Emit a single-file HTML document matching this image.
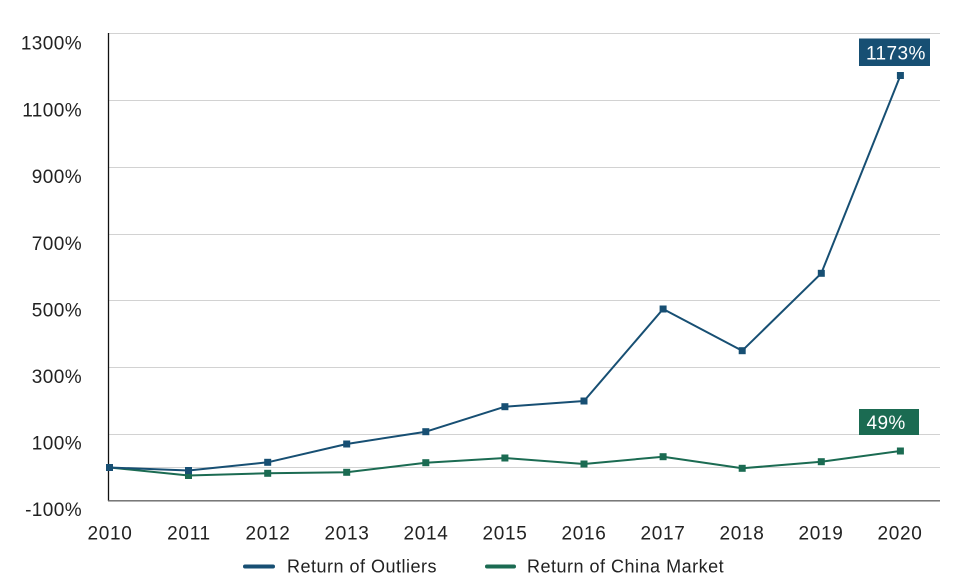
<!DOCTYPE html>
<html><head><meta charset="utf-8">
<style>
html,body{margin:0;padding:0;background:#fff;}
svg{display:block;}
text{font-family:"Liberation Sans",Arial,sans-serif;}
</style></head>
<body>
<svg width="960" height="585" viewBox="0 0 960 585" xmlns="http://www.w3.org/2000/svg">
<rect width="960" height="585" fill="#fff"/>
<g stroke="#d2d2d2" stroke-width="1">
<line x1="109" y1="33.5" x2="940" y2="33.5"/>
<line x1="109" y1="100.5" x2="940" y2="100.5"/>
<line x1="109" y1="167.5" x2="940" y2="167.5"/>
<line x1="109" y1="234.5" x2="940" y2="234.5"/>
<line x1="109" y1="300.5" x2="940" y2="300.5"/>
<line x1="109" y1="367.5" x2="940" y2="367.5"/>
<line x1="109" y1="434.5" x2="940" y2="434.5"/>
<line x1="109" y1="467.5" x2="940" y2="467.5"/>
</g>
<line x1="108.5" y1="33" x2="108.5" y2="501" stroke="#111" stroke-width="1.3"/>
<line x1="108" y1="500.8" x2="940" y2="500.8" stroke="#666" stroke-width="1.3"/>
<g font-size="19" fill="#222" text-anchor="end" letter-spacing="0.4">
<text x="82" y="49.5">1300%</text>
<text x="82" y="116.5">1100%</text>
<text x="82" y="183">900%</text>
<text x="82" y="250">700%</text>
<text x="82" y="316.5">500%</text>
<text x="82" y="383">300%</text>
<text x="82" y="449.5">100%</text>
<text x="82" y="516">-100%</text>
</g>
<g font-size="19" fill="#222" text-anchor="middle" letter-spacing="0.7">
<text x="110" y="539.5">2010</text>
<text x="189" y="539.5">2011</text>
<text x="268" y="539.5">2012</text>
<text x="347" y="539.5">2013</text>
<text x="426" y="539.5">2014</text>
<text x="505" y="539.5">2015</text>
<text x="584" y="539.5">2016</text>
<text x="663" y="539.5">2017</text>
<text x="742" y="539.5">2018</text>
<text x="821" y="539.5">2019</text>
<text x="900" y="539.5">2020</text>
</g>
<!-- China market -->
<polyline fill="none" stroke="#1b6b52" stroke-width="2" stroke-linejoin="round" points="109.5,467.5 188.5,475.5 267.7,473.3 346.7,472.3 425.8,462.7 504.9,458 584,464 663.1,456.7 742.2,468.3 821.3,461.7 900.4,451"/>
<g fill="#1b6b52">
<rect x="106" y="464" width="7" height="7"/>
<rect x="185" y="472" width="7" height="7"/>
<rect x="264.2" y="469.8" width="7" height="7"/>
<rect x="343.2" y="468.8" width="7" height="7"/>
<rect x="422.3" y="459.2" width="7" height="7"/>
<rect x="501.4" y="454.5" width="7" height="7"/>
<rect x="580.5" y="460.5" width="7" height="7"/>
<rect x="659.6" y="453.2" width="7" height="7"/>
<rect x="738.7" y="464.8" width="7" height="7"/>
<rect x="817.8" y="458.2" width="7" height="7"/>
<rect x="896.9" y="447.5" width="7" height="7"/>
</g>
<!-- Outliers -->
<polyline fill="none" stroke="#174f73" stroke-width="2" stroke-linejoin="round" points="109.5,467.5 188.5,470.5 267.7,462.3 346.7,444 425.8,431.7 504.9,406.7 584,401 663.1,309 742.2,350.7 821.3,273.3 900.4,75.5"/>
<g fill="#174f73">
<rect x="106" y="464" width="7" height="7"/>
<rect x="185" y="467" width="7" height="7"/>
<rect x="264.2" y="458.8" width="7" height="7"/>
<rect x="343.2" y="440.5" width="7" height="7"/>
<rect x="422.3" y="428.2" width="7" height="7"/>
<rect x="501.4" y="403.2" width="7" height="7"/>
<rect x="580.5" y="397.5" width="7" height="7"/>
<rect x="659.6" y="305.5" width="7" height="7"/>
<rect x="738.7" y="347.2" width="7" height="7"/>
<rect x="817.8" y="269.8" width="7" height="7"/>
<rect x="896.9" y="72" width="7" height="7"/>
</g>
<!-- Data labels -->
<rect x="859" y="38.5" width="71" height="27.5" fill="#174f73"/>
<text x="866" y="59.5" font-size="19" fill="#fff" letter-spacing="0.4">1173%</text>
<rect x="859" y="409" width="60" height="26" fill="#1b6b52"/>
<text x="866.5" y="429" font-size="19" fill="#fff" letter-spacing="0.4">49%</text>
<!-- Legend -->
<line x1="245" y1="566.5" x2="273" y2="566.5" stroke="#174f73" stroke-width="4" stroke-linecap="round"/>
<text x="287" y="572.5" font-size="18" fill="#222" letter-spacing="0.5">Return of Outliers</text>
<line x1="487" y1="566.5" x2="514" y2="566.5" stroke="#1b6b52" stroke-width="4" stroke-linecap="round"/>
<text x="527" y="572.5" font-size="18" fill="#222" letter-spacing="0.5">Return of China Market</text>
</svg>
</body></html>
